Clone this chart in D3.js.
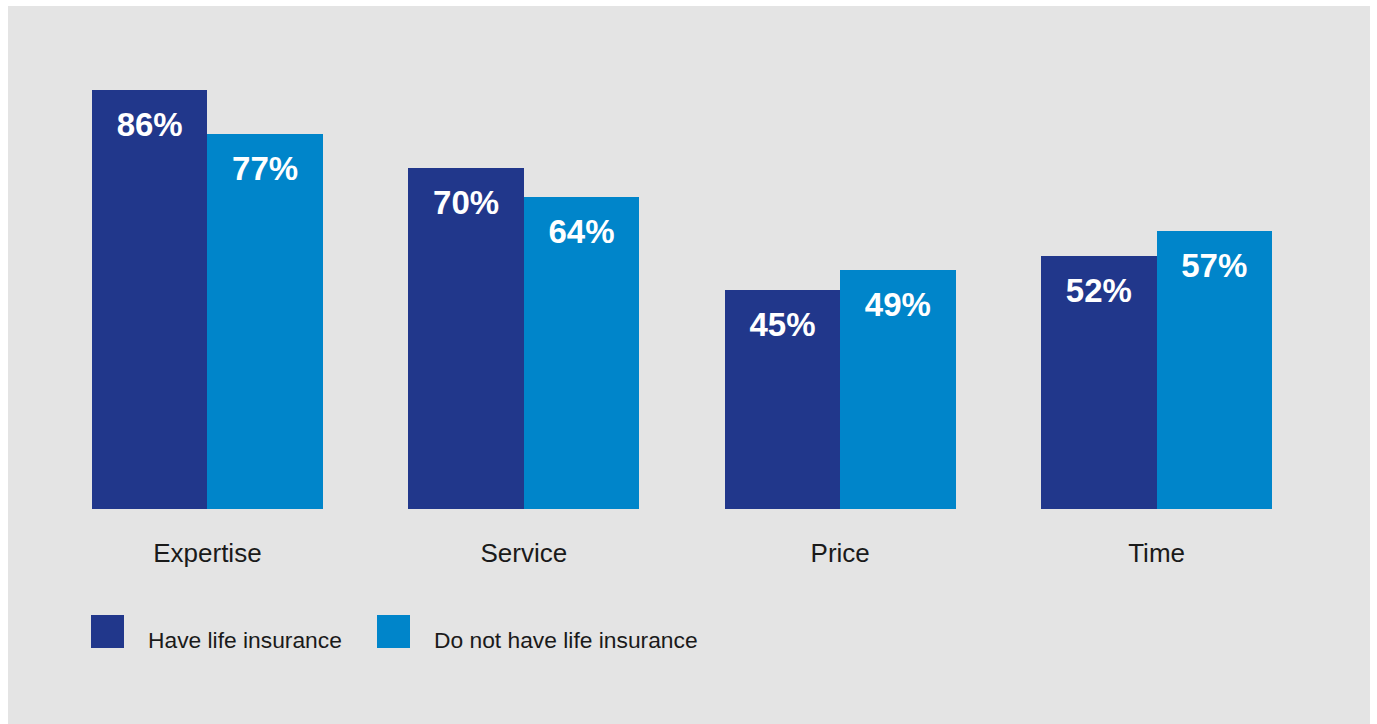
<!DOCTYPE html>
<html>
<head>
<meta charset="utf-8">
<script src="https://cdn.jsdelivr.net/npm/d3@7"></script>
<style>
  html, body { margin: 0; padding: 0; background: #ffffff; }
  svg { display: block; }
</style>
</head>
<body>
<script>
// Reasons for choosing a provider, by life insurance ownership (%)
const categories = ["Expertise", "Service", "Price", "Time"];
const seriesNames = ["Have life insurance", "Do not have life insurance"];
const haveInsurance = [86, 70, 45, 52];
const noInsurance = [77, 64, 49, 57];
const seriesColors = ["#21378b", "#0085ca"];

const width = 1377, height = 724;
const svg = d3.select("body").append("svg")
  .attr("width", width).attr("height", height);

// grey panel
svg.append("rect")
  .attr("x", 8).attr("y", 6)
  .attr("width", 1362).attr("height", 718)
  .attr("fill", "#e4e4e4");

const baseline = 509;
const y = d3.scaleLinear().domain([0, 100]).range([baseline, baseline - 487.4]);

const x0 = d3.scaleBand()
  .domain(categories)
  .range([92, 1272])
  .paddingInner(0.2706)
  .paddingOuter(0);

const x1 = d3.scaleBand()
  .domain(seriesNames)
  .range([0, x0.bandwidth()])
  .padding(0);

const rows = categories.map((c, i) => ({
  category: c,
  values: [
    { series: seriesNames[0], value: haveInsurance[i] },
    { series: seriesNames[1], value: noInsurance[i] }
  ]
}));

const color = d3.scaleOrdinal().domain(seriesNames).range(seriesColors);

const groups = svg.append("g").selectAll("g")
  .data(rows).join("g")
  .attr("transform", d => `translate(${x0(d.category)},0)`);

groups.selectAll("rect")
  .data(d => d.values).join("rect")
  .attr("x", d => x1(d.series))
  .attr("y", d => y(d.value))
  .attr("width", x1.bandwidth())
  .attr("height", d => baseline - y(d.value))
  .attr("fill", d => color(d.series))
  .attr("shape-rendering", "crispEdges");

groups.selectAll("text.value")
  .data(d => d.values).join("text")
  .attr("class", "value")
  .attr("x", d => x1(d.series) + x1.bandwidth() / 2)
  .attr("y", d => y(d.value) + 46)
  .attr("text-anchor", "middle")
  .attr("fill", "#ffffff")
  .style("font-family", "'Liberation Sans', Arial, Helvetica, sans-serif")
  .style("font-weight", "bold")
  .style("font-size", "33px")
  .text(d => d.value + "%");

// category axis labels
const xAxis = d3.axisBottom(x0).tickSize(0).tickPadding(0);
const axisG = svg.append("g")
  .attr("transform", `translate(0,${baseline})`)
  .call(xAxis);
axisG.select(".domain").remove();
axisG.selectAll("text")
  .attr("y", 53)
  .attr("dy", 0)
  .attr("fill", "#1a1a1a")
  .style("font-family", "'Liberation Sans', Arial, Helvetica, sans-serif")
  .style("font-size", "26px");

// legend
const legendX = [91, 377];
const legend = svg.append("g").selectAll("g")
  .data(seriesNames).join("g")
  .attr("transform", (d, i) => `translate(${legendX[i]},615)`);
legend.append("rect")
  .attr("width", 33).attr("height", 33)
  .attr("fill", d => color(d));
legend.append("text")
  .attr("x", 57).attr("y", 33)
  .attr("fill", "#1a1a1a")
  .style("font-family", "'Liberation Sans', Arial, Helvetica, sans-serif")
  .style("font-size", "22.8px")
  .text(d => d);
</script>
</body>
</html>
